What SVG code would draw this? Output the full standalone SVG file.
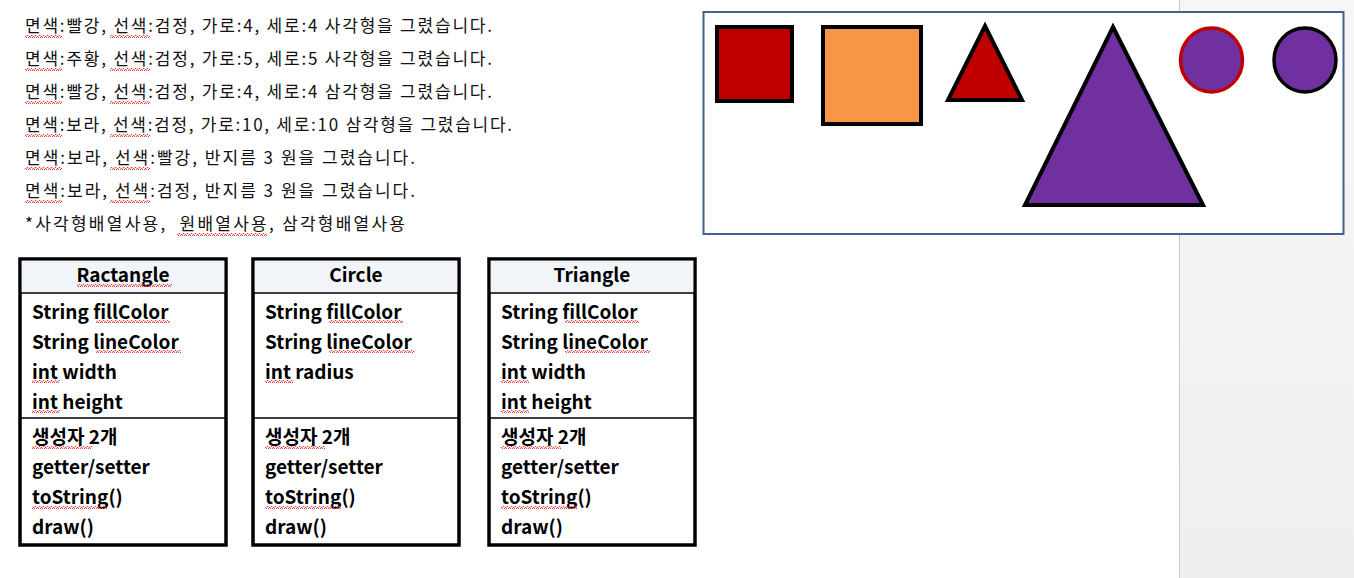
<svg xmlns="http://www.w3.org/2000/svg" width="1354" height="578" viewBox="0 0 1354 578">
<defs>
<linearGradient id="pane" x1="0" y1="0" x2="0" y2="1"><stop offset="0" stop-color="#f6f6f6"/><stop offset="1" stop-color="#efefef"/></linearGradient>
<pattern id="sq" width="4" height="3" patternUnits="userSpaceOnUse"><path d="M0,2.5 L1,0.5 L2,0.5 L3,2.5 L4,2.5" fill="none" stroke="#e03030" stroke-width="0.9"/></pattern>
<style>
.t{font-family:"Noto Sans CJK KR","Noto Sans",sans-serif;font-size:17px;fill:#111}
.b{font-family:"Noto Sans CJK KR","Noto Sans",sans-serif;font-size:19px;font-weight:bold;fill:#000}
.box{fill:#fff;stroke:#000;stroke-width:3.5}
.hd{fill:#f1f4f9}
.dv{stroke:#000;stroke-width:1.5}
.sq{fill:url(#sq)}
.sh{stroke:#000;stroke-width:4}
</style>
</defs>
<rect width="1354" height="578" fill="#fff"/>
<rect x="1180" y="0" width="174" height="578" fill="url(#pane)"/>
<line x1="1179.5" y1="0" x2="1179.5" y2="578" stroke="#c8c8c8" stroke-width="1"/>

<g id="description">
<text class="t" x="25" y="32" textLength="467">면색:빨강, 선색:검정, 가로:4, 세로:4 사각형을 그렸습니다.</text>
<text class="t" x="25" y="65" textLength="467">면색:주황, 선색:검정, 가로:5, 세로:5 사각형을 그렸습니다.</text>
<text class="t" x="25" y="98" textLength="467">면색:빨강, 선색:검정, 가로:4, 세로:4 삼각형을 그렸습니다.</text>
<text class="t" x="25" y="131" textLength="487">면색:보라, 선색:검정, 가로:10, 세로:10 삼각형을 그렸습니다.</text>
<text class="t" x="25" y="164" textLength="390">면색:보라, 선색:빨강, 반지름 3 원을 그렸습니다.</text>
<text class="t" x="25" y="197" textLength="390">면색:보라, 선색:검정, 반지름 3 원을 그렸습니다.</text>
<text class="t" x="25" y="230" textLength="380" xml:space="preserve">*사각형배열사용,  원배열사용, 삼각형배열사용</text>
<rect class="sq" x="25" y="35" width="37" height="3"/><rect class="sq" x="110" y="35" width="40" height="3"/>
<rect class="sq" x="25" y="68" width="37" height="3"/><rect class="sq" x="110" y="68" width="40" height="3"/>
<rect class="sq" x="25" y="101" width="37" height="3"/><rect class="sq" x="110" y="101" width="40" height="3"/>
<rect class="sq" x="25" y="134" width="37" height="3"/><rect class="sq" x="110" y="134" width="40" height="3"/>
<rect class="sq" x="25" y="167" width="37" height="3"/><rect class="sq" x="110" y="167" width="40" height="3"/>
<rect class="sq" x="25" y="200" width="37" height="3"/><rect class="sq" x="110" y="200" width="40" height="3"/>
<rect class="sq" x="177" y="233" width="90" height="3"/>
</g>

<g id="canvas">
<rect x="703.5" y="12" width="640" height="222" fill="#fff" stroke="#41608f" stroke-width="2"/>
<rect class="sh" x="717" y="27" width="75" height="74" fill="#c00000"/>
<rect class="sh" x="823" y="27" width="98" height="97" fill="#f79646"/>
<polygon class="sh" points="985,26 1022,100 948,100" fill="#c00000"/>
<polygon class="sh" points="1113,27 1203,205 1025,205" fill="#7030a0"/>
<ellipse cx="1211.5" cy="60" rx="31" ry="32" fill="#7030a0" stroke="#c00000" stroke-width="3.5"/>
<ellipse cx="1305" cy="60" rx="31" ry="32" fill="#7030a0" stroke="#000" stroke-width="3.5"/>
</g>

<g id="class-rectangle">
<rect class="box" x="20" y="259" width="206" height="286"/>
<rect class="hd" x="21.75" y="260.75" width="202.5" height="31.5"/>
<line class="dv" x1="20" y1="293" x2="226" y2="293"/>
<line class="dv" x1="20" y1="418" x2="226" y2="418"/>
<text class="b" x="123" y="282" text-anchor="middle">Ractangle</text>
<text class="b" x="32" y="319">String fillColor</text>
<text class="b" x="32" y="349">String lineColor</text>
<text class="b" x="32" y="379">int width</text>
<text class="b" x="32" y="409">int height</text>
<text class="b" x="32" y="444">생성자 2개</text>
<text class="b" x="32" y="474">getter/setter</text>
<text class="b" x="32" y="504">toString()</text>
<text class="b" x="32" y="534">draw()</text>
<rect class="sq" x="77" y="284" width="95" height="3"/>
<rect class="sq" x="96" y="320" width="74" height="3"/>
<rect class="sq" x="96" y="350" width="85" height="3"/>
<rect class="sq" x="32" y="380" width="28" height="3"/>
<rect class="sq" x="32" y="410" width="28" height="3"/>
<rect class="sq" x="32" y="446" width="60" height="3"/>
<rect class="sq" x="32" y="506" width="76" height="3"/>
</g>

<g id="class-circle">
<rect class="box" x="253" y="259" width="206" height="286"/>
<rect class="hd" x="254.75" y="260.75" width="202.5" height="31.5"/>
<line class="dv" x1="253" y1="293" x2="459" y2="293"/>
<line class="dv" x1="253" y1="418" x2="459" y2="418"/>
<text class="b" x="356" y="282" text-anchor="middle">Circle</text>
<text class="b" x="265" y="319">String fillColor</text>
<text class="b" x="265" y="349">String lineColor</text>
<text class="b" x="265" y="379">int radius</text>
<text class="b" x="265" y="444">생성자 2개</text>
<text class="b" x="265" y="474">getter/setter</text>
<text class="b" x="265" y="504">toString()</text>
<text class="b" x="265" y="534">draw()</text>
<rect class="sq" x="329" y="320" width="74" height="3"/>
<rect class="sq" x="329" y="350" width="85" height="3"/>
<rect class="sq" x="265" y="380" width="28" height="3"/>
<rect class="sq" x="265" y="446" width="60" height="3"/>
<rect class="sq" x="265" y="506" width="76" height="3"/>
</g>

<g id="class-triangle">
<rect class="box" x="489" y="259" width="206" height="286"/>
<rect class="hd" x="490.75" y="260.75" width="202.5" height="31.5"/>
<line class="dv" x1="489" y1="293" x2="695" y2="293"/>
<line class="dv" x1="489" y1="418" x2="695" y2="418"/>
<text class="b" x="592" y="282" text-anchor="middle">Triangle</text>
<text class="b" x="501" y="319">String fillColor</text>
<text class="b" x="501" y="349">String lineColor</text>
<text class="b" x="501" y="379">int width</text>
<text class="b" x="501" y="409">int height</text>
<text class="b" x="501" y="444">생성자 2개</text>
<text class="b" x="501" y="474">getter/setter</text>
<text class="b" x="501" y="504">toString()</text>
<text class="b" x="501" y="534">draw()</text>
<rect class="sq" x="565" y="320" width="74" height="3"/>
<rect class="sq" x="565" y="350" width="85" height="3"/>
<rect class="sq" x="501" y="380" width="28" height="3"/>
<rect class="sq" x="501" y="410" width="28" height="3"/>
<rect class="sq" x="501" y="446" width="60" height="3"/>
<rect class="sq" x="501" y="506" width="76" height="3"/>
</g>

<g id="connectors"/>
</svg>
